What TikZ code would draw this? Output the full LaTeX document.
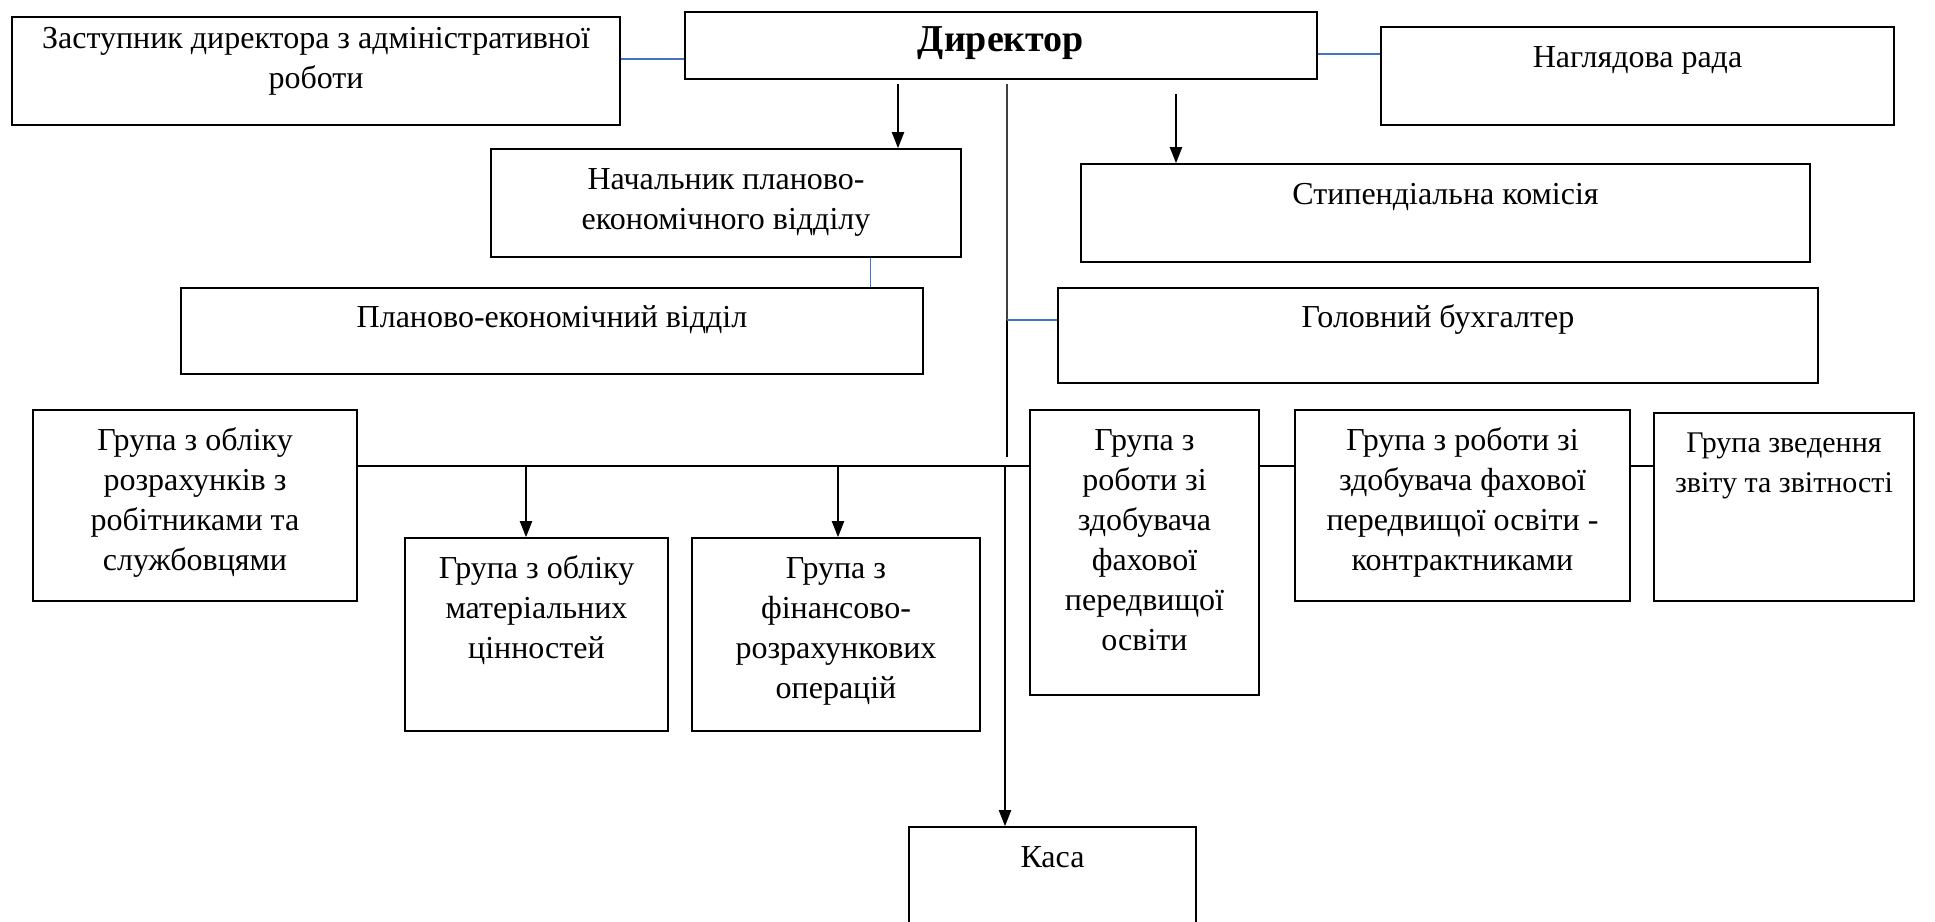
\documentclass[tikz,border=0pt]{standalone}
\usepackage{fontspec}
\setmainfont{Liberation Serif}
\usetikzlibrary{arrows.meta,fit}
\begin{document}
\begin{tikzpicture}[x=1pt,y=-1pt,
  box/.style={draw=black,line width=1.6pt,inner sep=0pt,fill=none},
  txt/.style={align=center,inner sep=0pt,font=\fontsize{32}{40}\selectfont,anchor=north},
  blueline/.style={draw={rgb,255:red,68;green,114;blue,196},line width=1.3pt},
  grayline/.style={draw=black!75,line width=1.2pt},
  conn/.style={draw=black,line width=2pt},
  arr/.style={conn,-{Triangle[length=16pt,width=12pt]}}]
\useasboundingbox (0,0) rectangle (1935,921);
% boxes
\node[box,fit={(12,17) (620,125)}] (zast) {};
\node[box,fit={(685,12) (1317,79)}] (dir) {};
\node[box,fit={(1381,27) (1894,125)}] (nagl) {};
\node[box,fit={(491,149) (961,257)}] (nach) {};
\node[box,fit={(181,288) (923,374)}] (plan) {};
\node[box,fit={(1081,164) (1810,262)}] (styp) {};
\node[box,fit={(1058,288) (1818,383)}] (golov) {};
\node[box,fit={(33,410) (357,601)}] (g1) {};
\node[box,fit={(405,538) (668,731)}] (g2) {};
\node[box,fit={(692,538) (980,731)}] (g3) {};
\node[box,fit={(1030,410) (1259,695)}] (g4) {};
\node[box,fit={(1295,410) (1630,601)}] (g5) {};
\node[box,fit={(1654,413) (1914,601)}] (g6) {};
\node[box,fit={(909,827) (1196,960)}] (kasa) {};
% texts
\node[txt] (zastT) at ([yshift=-4pt]zast.north) {\strut Заступник директора з адміністративної\\роботи};
\node[font=\bfseries\fontsize{38}{40}\selectfont,inner sep=0pt] (dirT) at ([yshift=2pt]dir.center) {Директор};
\node[txt] (naglT) at ([yshift=-13pt]nagl.north) {\strut Наглядова рада};
\node[txt] (nachT) at ([yshift=-13pt]nach.north) {\strut Начальник планово-\\економічного відділу};
\node[txt] (planT) at ([yshift=-12pt]plan.north) {\strut Планово-економічний відділ};
\node[txt] (stypT) at ([yshift=-13pt]styp.north) {\strut Стипендіальна комісія};
\node[txt] (golovT) at ([yshift=-12pt]golov.north) {\strut Головний бухгалтер};
\node[txt] (g1T) at ([yshift=-13pt]g1.north) {\strut Група з обліку\\розрахунків з\\робітниками та\\службовцями};
\node[txt] (g2T) at ([yshift=-13pt]g2.north) {\strut Група з обліку\\матеріальних\\цінностей};
\node[txt] (g3T) at ([yshift=-13pt]g3.north) {\strut Група з\\фінансово-\\розрахункових\\операцій};
\node[txt] (g4T) at ([yshift=-13pt]g4.north) {\strut Група з\\роботи зі\\здобувача\\фахової\\передвищої\\освіти};
\node[txt] (g5T) at ([yshift=-13pt]g5.north) {\strut Група з роботи зі\\здобувача фахової\\передвищої освіти -\\контрактниками};
\node[txt,font=\fontsize{30}{40}\selectfont] (g6T) at ([yshift=-12pt]g6.north) {\strut Група зведення\\звіту та звітності};
\node[txt] (kasaT) at ([yshift=-13pt]kasa.north) {\strut Каса};
% helper coordinates
\coordinate (yA) at (0,59);
\coordinate (yB) at (0,54);
\coordinate (a1) at (898,84);
\coordinate (a2) at (1176,94);
\coordinate (xP) at (870,0);
\coordinate (vTop) at (1007,84);
\coordinate (vMid) at (1007,320);
\coordinate (vLow) at (1007,457);
\coordinate (hy) at (0,466);
\coordinate (hK) at (1005,466);
\coordinate (h2) at (526,466);
\coordinate (h3) at (838,466);
% connectors
\draw[blueline] (zast.east |- yA) -- (dir.west |- yA);
\draw[blueline] (dir.east |- yB) -- (nagl.west |- yB);
\draw[arr] (a1) -- (a1 |- nach.north);
\draw[arr] (a2) -- (a2 |- styp.north);
\draw[blueline,line width=1pt] (nach.south -| xP) -- (plan.north -| xP);
\draw[grayline] (vTop) -- (vMid);
\draw[conn,line width=1.6pt] (vMid) -- (vLow);
\draw[blueline] (vMid) -- (golov.west |- vMid);
\draw[conn] (g1.east |- hy) -- (g4.west |- hy);
\draw[arr] (h2) -- (h2 |- g2.north);
\draw[arr] (h3) -- (h3 |- g3.north);
\draw[arr] (hK) -- (hK |- kasa.north);
\draw[conn] (g4.east |- hy) -- (g5.west |- hy);
\draw[conn] (g5.east |- hy) -- (g6.west |- hy);
\end{tikzpicture}
\end{document}
